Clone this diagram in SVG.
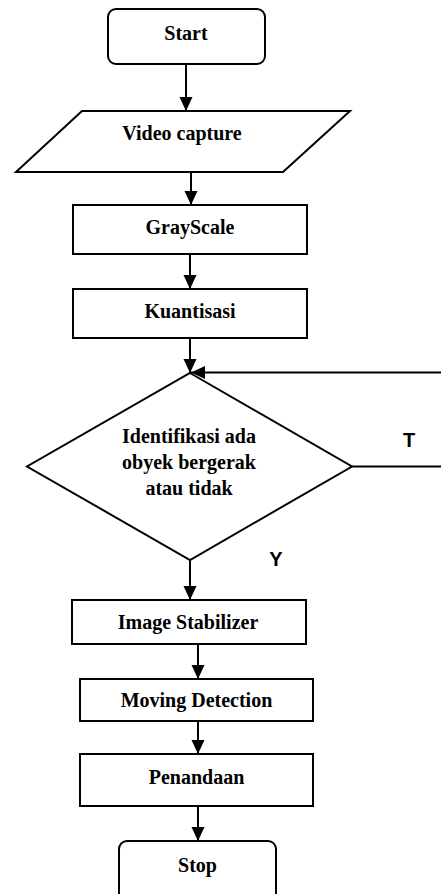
<svg xmlns="http://www.w3.org/2000/svg" width="441" height="894" viewBox="0 0 441 894">
<style>
.s{fill:#fff;stroke:#000;stroke-width:2}
.t{font-family:"Liberation Serif","Times New Roman",serif;font-weight:bold;font-size:20px;text-anchor:middle;fill:#000}
.l{font-family:"Liberation Sans",Arial,sans-serif;font-weight:bold;font-size:20px;text-anchor:middle;fill:#000}
.c{fill:none;stroke:#000;stroke-width:2}
</style>
<defs>
<marker id="a" markerUnits="userSpaceOnUse" markerWidth="14" markerHeight="14" viewBox="0 0 14 14" refX="14" refY="7" orient="auto">
<path d="M0,0.5 L14,7 L0,13.5 z" fill="#000"/>
</marker>
</defs>
<rect width="441" height="894" fill="#fff"/>
<g id="connectors">
<line class="c" x1="186" y1="64" x2="186" y2="111" marker-end="url(#a)"/>
<line class="c" x1="191" y1="172" x2="191" y2="205" marker-end="url(#a)"/>
<line class="c" x1="190" y1="254" x2="190" y2="289" marker-end="url(#a)"/>
<line class="c" x1="190" y1="338" x2="190" y2="373" marker-end="url(#a)"/>
<line class="c" x1="190" y1="561" x2="190" y2="600" marker-end="url(#a)"/>
<line class="c" x1="198" y1="644" x2="198" y2="679" marker-end="url(#a)"/>
<line class="c" x1="198" y1="721" x2="198" y2="754" marker-end="url(#a)"/>
<line class="c" x1="198" y1="806" x2="198" y2="841" marker-end="url(#a)"/>
<path class="c" d="M352,466.5 H446 V372.5 H191" marker-end="url(#a)"/>
<text class="l" x="409" y="447">T</text>
<text class="l" x="276" y="566">Y</text>
</g>
<g id="start">
<rect class="s" x="108" y="9" width="157" height="55" rx="8"/>
<text class="t" x="186" y="40">Start</text>
</g>
<g id="video">
<polygon class="s" points="82,111 350,111 283,172 16,172"/>
<text class="t" x="182" y="140">Video capture</text>
</g>
<g id="grayscale">
<rect class="s" x="73" y="205" width="234" height="49"/>
<text class="t" x="190" y="234">GrayScale</text>
</g>
<g id="kuantisasi">
<rect class="s" x="73" y="289" width="234" height="49"/>
<text class="t" x="190" y="318">Kuantisasi</text>
</g>
<g id="decision">
<polygon class="s" points="190,373 352,466.5 190,560 27,466.5"/>
<text class="t" x="189" y="443">Identifikasi ada</text>
<text class="t" x="189" y="469">obyek bergerak</text>
<text class="t" x="189" y="495">atau tidak</text>
</g>
<g id="stabilizer">
<rect class="s" x="72" y="600" width="234" height="44"/>
<text class="t" x="188" y="629">Image Stabilizer</text>
</g>
<g id="moving">
<rect class="s" x="80" y="679" width="233" height="42"/>
<text class="t" x="196.5" y="707">Moving Detection</text>
</g>
<g id="penandaan">
<rect class="s" x="80" y="754" width="233" height="52"/>
<text class="t" x="196.5" y="784">Penandaan</text>
</g>
<g id="stop">
<rect class="s" x="119" y="841" width="157" height="62" rx="8"/>
<text class="t" x="197.5" y="872">Stop</text>
</g>
</svg>
